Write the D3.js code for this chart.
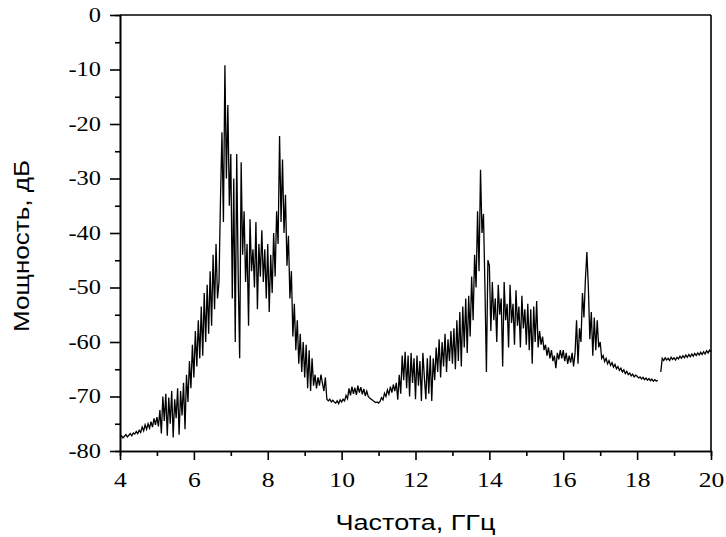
<!DOCTYPE html>
<html lang="ru">
<head>
  <meta charset="UTF-8" />
  <title>Спектр мощности</title>
  <script src="https://d3js.org/d3.v7.min.js"></script>
  <style>
    body { margin: 0; background: #fff; }
    .axis path, .axis line { stroke: #000; stroke-width: 1.6; }
    .title { font-family: "Liberation Sans", Arial, sans-serif; font-size: 22px; fill: #000; }
    .spectrum { fill: none; stroke: #000; stroke-width: 1.3; stroke-linejoin: miter; }
  </style>
</head>
<body>
<div id="chart"></div>
<script>
  /*****************************************************************
   *****************************************************************/
  const fStart = 4;
  const fStep = 0.04;

  const powerDb = [
    // 4 GHz
    -77.5, -77.2, -77.6, -77.3, -77.0, -77.4, -77.1, -76.8, -77.2, -76.7, -76.9, -76.4, -76.8,
    -76.2, -76.6, -75.6, -76.3, -75.2, -76.0, -75.0, -75.8, -74.6, -75.6, -74.0, -75.2,
    // 5 GHz
    -73.8, -75.5, -72.5, -76.8, -70.0, -74.5, -69.5, -77.2, -70.2, -75.0, -69.0, -77.5, -70.5,
    -74.0, -68.5, -77.0, -69.0, -73.5, -67.5, -76.0, -66.0, -71.0, -63.5, -68.5, -60.5,
    // 6 GHz
    -66.5, -58.0, -64.5, -56.0, -63.0, -53.5, -62.5, -51.0, -60.0, -49.5, -58.5, -47.0, -57.0,
    -44.0, -54.0, -42.0, -52.0, -49.0, -34.0, -21.5, -38.0, -9.2, -30.0, -16.5, -35.0,
    // 7 GHz
    -25.5, -52.0, -30.0, -60.0, -25.5, -48.0, -63.0, -27.0, -44.0, -36.0, -49.0, -42.0, -57.0,
    -37.5, -47.0, -43.0, -50.0, -38.0, -54.0, -42.0, -48.0, -39.5, -49.0, -43.0, -52.0,
    // 8 GHz
    -42.0, -54.5, -44.0, -51.0, -40.0, -48.0, -36.0, -42.0, -22.2, -38.0, -26.5, -40.0, -33.0,
    -46.0, -40.5, -52.0, -47.0, -59.0, -53.0, -61.5, -56.0, -64.0, -58.5, -65.5, -60.0,
    // 9 GHz
    -66.5, -60.5, -68.5, -61.5, -69.0, -63.0, -68.0, -66.0, -68.5, -66.5, -68.0, -66.0, -67.5,
    -69.0, -66.5, -70.5, -70.8, -70.5, -71.0, -70.7, -71.0, -71.2, -70.8, -71.3, -70.6,
    // 10 GHz
    -71.0, -70.5, -70.8, -69.8, -70.4, -68.5, -69.8, -68.2, -69.5, -68.4, -69.7, -68.0, -69.3,
    -68.3, -69.6, -68.6, -69.9, -69.0, -70.0, -70.3, -70.5, -70.7, -70.9, -71.1, -71.0,
    // 11 GHz
    -71.2, -70.9, -70.2, -70.6, -69.4, -70.0, -68.8, -69.6, -68.2, -69.3, -67.8, -69.0, -67.5,
    -70.6, -66.0, -69.5, -62.5, -67.0, -61.8, -68.5, -62.5, -70.0, -62.0, -67.5, -63.0,
    // 12 GHz
    -70.5, -62.5, -68.0, -63.5, -70.8, -62.0, -66.5, -70.5, -63.0, -69.5, -62.5, -70.8, -63.0,
    -67.0, -61.0, -65.5, -59.5, -66.5, -60.0, -64.5, -58.5, -65.5, -59.5, -63.5, -58.0,
    // 13 GHz
    -64.0, -57.5, -65.0, -56.0, -63.5, -54.5, -64.5, -53.5, -61.0, -52.0, -62.0, -51.5, -59.0,
    -48.0, -56.0, -44.0, -50.0, -36.0, -47.0, -28.4, -40.0, -36.5, -50.0, -65.5, -45.0,
    // 14 GHz
    -46.0, -58.0, -49.0, -56.0, -52.0, -60.0, -49.5, -55.0, -52.0, -64.5, -49.0, -56.0, -53.0,
    -61.0, -49.5, -56.5, -53.0, -60.5, -50.5, -57.0, -53.5, -61.0, -51.5, -57.5, -54.0,
    // 15 GHz
    -60.5, -53.0, -61.5, -54.0, -64.0, -53.5, -60.0, -52.5, -61.0, -58.0, -60.5, -59.0, -61.5,
    -60.5, -62.5, -61.0, -63.0, -61.5, -63.5, -62.5, -64.8, -62.0, -63.2, -61.5, -63.0,
    // 16 GHz
    -61.5, -63.5, -62.0, -64.0, -62.5, -63.8, -62.0, -64.5, -62.0, -56.0, -64.0, -57.5, -60.0,
    -51.0, -55.5, -48.5, -43.5, -50.0, -59.5, -54.5, -62.5, -55.5, -61.5, -56.0, -61.0,
    // 17 GHz
    -60.0, -63.0, -62.5, -63.6, -63.0, -64.0, -63.4, -64.3, -63.8, -64.6, -64.1, -64.9, -64.5,
    -65.2, -64.8, -65.5, -65.1, -65.8, -65.4, -66.0, -65.7, -66.2, -65.9, -66.4, -66.1,
    // 18 GHz (short break in the trace near 18.6)
    -66.3, -66.6, -66.4, -66.8, -66.5, -66.9, -66.6, -67.0, -66.7, -67.1, -66.8, -67.2, -66.9,
    -67.2, -67.0, null, -65.5, -63.0, -63.4, -62.9, -63.3, -63.0, -63.4, -62.8, -63.2,
    // 19 - 20 GHz
    -62.9, -63.3, -62.8, -63.1, -62.6, -63.0, -62.5, -62.9, -62.4, -62.8, -62.3, -62.7, -62.2,
    -62.6, -62.1, -62.5, -62.0, -62.4, -61.9, -62.3, -61.8, -62.2, -61.6, -62.0, -61.5, -61.8
  ];

  const xTicks = [4, 6, 8, 10, 12, 14, 16, 18, 20];
  const xMinorTicks = [5, 7, 9, 11, 13, 15, 17, 19];
  const yTicks = [0, -10, -20, -30, -40, -50, -60, -70, -80];
  const yMinorTicks = [-5, -15, -25, -35, -45, -55, -65, -75];

  const xLabel = "Частота, ГГц";
  const yLabel = "Мощность, дБ";

  /*****************************************************************
   * Layout
   *****************************************************************/
  const width = 726;
  const height = 537;
  const margin = { top: 15, right: 15, bottom: 86, left: 120 };
  const plotW = width - margin.left - margin.right;
  const plotH = height - margin.top - margin.bottom;

  const svg = d3.select("#chart").append("svg")
    .attr("width", width)
    .attr("height", height);

  const g = svg.append("g")
    .attr("transform", `translate(${margin.left},${margin.top})`);

  const x = d3.scaleLinear().domain([4, 20]).range([0, plotW]);
  const y = d3.scaleLinear().domain([-80, 0]).range([plotH, 0]);

  // serif labels, a bit wider than the font (as in the picture)
  function styleLabels(sel, size) {
    sel.style("font-family", "'Liberation Serif', 'Times New Roman', serif")
      .style("font-size", size + "px")
      .style("fill", "#000");
    sel.each(function() {
      const w = this.getComputedTextLength();
      d3.select(this).attr("textLength", w * 1.22).attr("lengthAdjust", "spacingAndGlyphs");
    });
  }

  /*****************************************************************
   * Axes + frame
   *****************************************************************/
  g.append("g").attr("class", "axis")
    .attr("transform", `translate(0,${plotH})`)
    .call(d3.axisBottom(x).tickValues(xMinorTicks).tickSize(5).tickFormat(""));

  g.append("g").attr("class", "axis")
    .call(d3.axisLeft(y).tickValues(yMinorTicks).tickSize(5).tickFormat(""));

  const xAxis = g.append("g").attr("class", "axis")
    .attr("transform", `translate(0,${plotH})`)
    .call(d3.axisBottom(x).tickValues(xTicks).tickSize(9).tickSizeOuter(0).tickPadding(12)
      .tickFormat(d => String(d)));
  xAxis.attr("font-family", null);
  styleLabels(xAxis.selectAll("text"), 21);

  const yAxis = g.append("g").attr("class", "axis")
    .call(d3.axisLeft(y).tickValues(yTicks).tickSize(10).tickSizeOuter(0).tickPadding(9)
      .tickFormat(d => String(d)));
  yAxis.attr("font-family", null);
  styleLabels(yAxis.selectAll("text"), 20);

  g.append("line")
    .attr("x1", 0).attr("x2", plotW).attr("y1", 0).attr("y2", 0)
    .attr("stroke", "#000").attr("stroke-width", 1.6);
  g.append("line")
    .attr("x1", plotW).attr("x2", plotW).attr("y1", 0).attr("y2", plotH)
    .attr("stroke", "#000").attr("stroke-width", 1.6);

  /*****************************************************************
   * Spectrum trace
   *****************************************************************/
  const line = d3.line()
    .defined(d => d !== null)
    .x((d, i) => x(fStart + i * fStep))
    .y(d => y(d));

  g.append("path")
    .datum(powerDb)
    .attr("class", "spectrum")
    .attr("d", line);

  /*****************************************************************
   * Axis titles
   *****************************************************************/
  svg.append("text").attr("class", "title")
    .attr("x", margin.left + plotW / 2).attr("y", 530)
    .attr("text-anchor", "middle")
    .attr("textLength", 160).attr("lengthAdjust", "spacingAndGlyphs")
    .text(xLabel);

  svg.append("text").attr("class", "title")
    .attr("transform", "translate(29,246) rotate(-90)")
    .attr("text-anchor", "middle")
    .attr("textLength", 172).attr("lengthAdjust", "spacingAndGlyphs")
    .text(yLabel);
</script>
</body>
</html>
